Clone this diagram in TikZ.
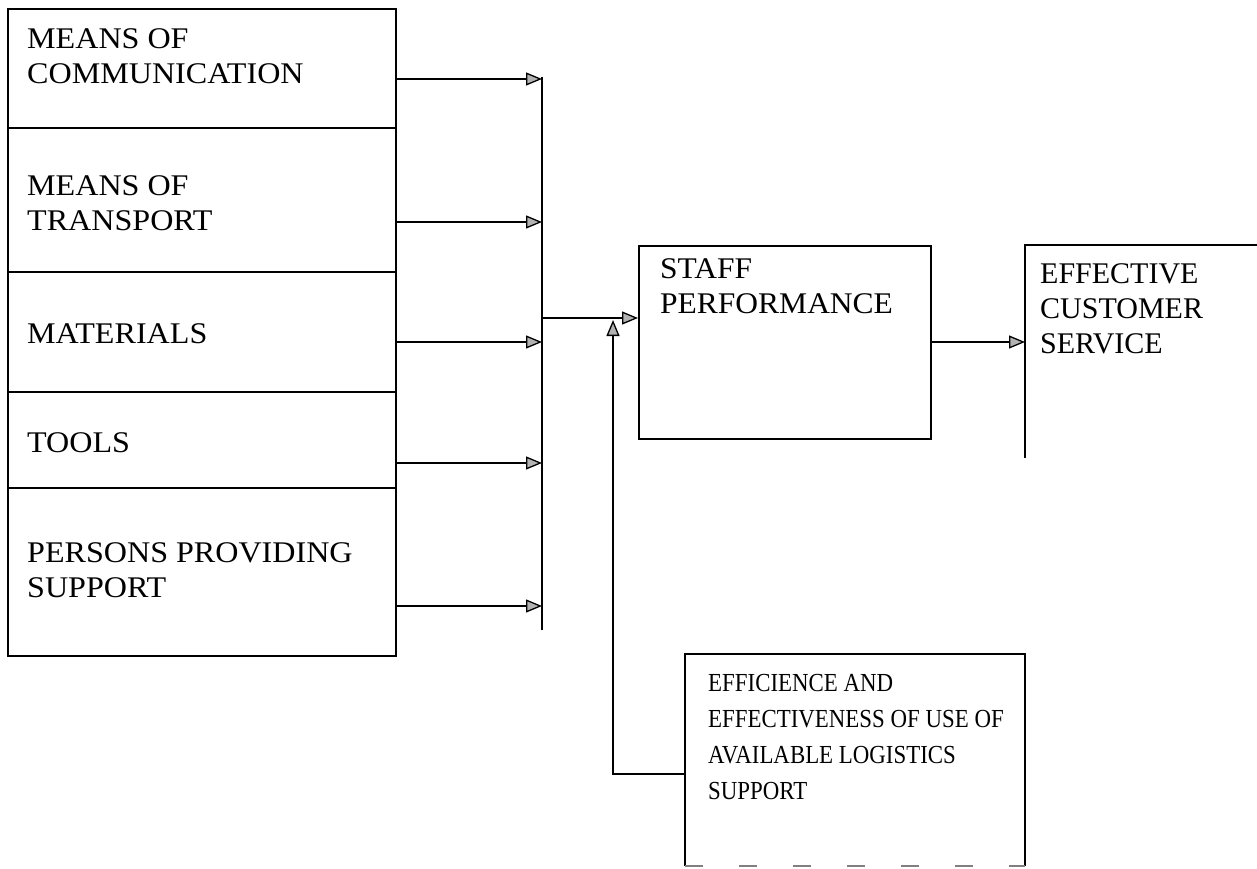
\documentclass[tikz,border=0pt]{standalone}
\usepackage{fontspec}
\setmainfont{Liberation Serif}
\newfontfamily\widefont[FakeStretch=1.07]{Liberation Serif}
\newfontfamily\staffont[FakeStretch=1.05]{Liberation Serif}
\newfontfamily\condfont[FakeStretch=0.88]{Liberation Serif}
\usetikzlibrary{arrows.meta}
\begin{document}
\begin{tikzpicture}[x=1pt,y=-1pt,
  boxline/.style={draw=black,line width=1.7pt},
  txt/.style={anchor=north west,inner sep=0pt,align=left,font=\fontsize{30}{36}\selectfont},
  conn/.style={line width=1.7pt},
  arr/.style={conn,-{Triangle[length=16pt,width=13pt,fill=gray!60,line width=1.3pt]}}]
\useasboundingbox (0,0) rectangle (1257,869);
% left column
\node[boxline,minimum width=388pt,minimum height=119pt,inner sep=0pt,anchor=north west] (m1) at (7,8) {};
\node[boxline,minimum width=388pt,minimum height=144pt,inner sep=0pt,anchor=north west] (m2) at (7,127) {};
\node[boxline,minimum width=388pt,minimum height=120pt,inner sep=0pt,anchor=north west] (m3) at (7,271) {};
\node[boxline,minimum width=388pt,minimum height=96pt,inner sep=0pt,anchor=north west] (m4) at (7,391) {};
\node[boxline,minimum width=388pt,minimum height=168pt,inner sep=0pt,anchor=north west] (m5) at (7,487) {};
\node[txt,font=\widefont\fontsize{30}{35}\selectfont] (t1) at (27,28) {MEANS OF\\COMMUNICATION};
\node[txt,font=\widefont\fontsize{30}{35}\selectfont] (t2) at (27,175) {MEANS OF\\TRANSPORT};
\node[txt,font=\widefont\fontsize{30}{35}\selectfont] (t3) at (27,323) {MATERIALS};
\node[txt,font=\widefont\fontsize{30}{35}\selectfont] (t4) at (27,432) {TOOLS};
\node[txt,font=\widefont\fontsize{30}{35}\selectfont] (t5) at (27,542) {PERSONS PROVIDING\\SUPPORT};
% bus
\coordinate (bt) at (542,77);
\coordinate (bb) at (542,630);
\draw[conn] (bt) -- (bb);
\coordinate (b1) at (542,79);
\coordinate (b2) at (542,222);
\coordinate (b3) at (542,342);
\coordinate (b4) at (542,463);
\coordinate (b5) at (542,606);
\draw[arr] (m1.east |- b1) -- (b1);
\draw[arr] (m2.east |- b2) -- (b2);
\draw[arr] (m3.east |- b3) -- (b3);
\draw[arr] (m4.east |- b4) -- (b4);
\draw[arr] (m5.east |- b5) -- (b5);
% staff
\node[boxline,minimum width=292pt,minimum height=193pt,inner sep=0pt,anchor=north west] (staff) at (638,245) {};
\node[txt,font=\staffont\fontsize{30}{35}\selectfont] (ts) at (660,258) {STAFF\\PERFORMANCE};
\coordinate (bo) at (542,318);
\draw[arr] (bo) -- (staff.west |- bo);
% effective (right side cut off)
\coordinate (ea) at (1257,245);
\coordinate (eb) at (1025,245);
\coordinate (ec) at (1025,458);
\draw[conn] (ea) -- (eb) -- (ec);
\node[txt,font=\fontsize{30}{35}\selectfont] (te) at (1040,263) {EFFECTIVE\\CUSTOMER\\SERVICE};
\coordinate (ein) at (1025,342);
\draw[arr] (staff.east |- ein) -- (ein);
% bottom box
\coordinate (lt) at (685,654);
\coordinate (rt) at (1025,654);
\coordinate (lb) at (685,866);
\coordinate (rb) at (1025,866);
\draw[conn] (lb) -- (lt) -- (rt) -- (rb);
\draw[line width=1.3pt,dash pattern=on 18pt off 36pt,gray] (lb) -- (rb);
\node[txt,font=\condfont\fontsize{26}{36}\selectfont] (tb) at (708,674) {EFFICIENCE AND\\EFFECTIVENESS OF USE OF\\AVAILABLE LOGISTICS\\SUPPORT};
\coordinate (lc) at (685,774);
\coordinate (up) at (613,774);
\coordinate (upt) at (613,320);
\draw[arr] (lc) -- (up) -- (upt);
\end{tikzpicture}
\end{document}
